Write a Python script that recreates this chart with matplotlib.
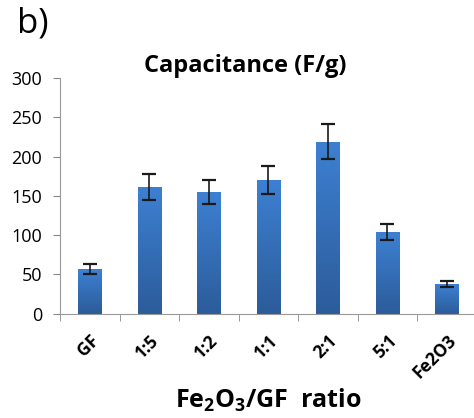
"""Capacitance bar chart for Fe2O3/GF ratios, with error bars."""

import matplotlib

matplotlib.use("Agg")
import matplotlib.pyplot as plt
import numpy as np
from matplotlib.colors import LinearSegmentedColormap

categories = ["GF", "1:5", "1:2", "1:1", "2:1", "5:1", "Fe2O3"]
capacitance = [57, 161, 155, 170, 219, 104, 38]
errors = [6, 16.5, 15.5, 17.5, 22, 10.5, 3.5]
y_ticks = [0, 50, 100, 150, 200, 250, 300]

plt.rcParams["font.family"] = ["Open Sans", "DejaVu Sans"]
plt.rcParams["mathtext.fontset"] = "custom"
plt.rcParams["mathtext.rm"] = "Open Sans:bold"
plt.rcParams["mathtext.bf"] = "Open Sans:bold"

fig = plt.figure(figsize=(4.74, 4.18), dpi=100)
ax = fig.add_axes([0.1266, 0.2495, 0.879, 0.564])

x = np.arange(len(categories))
bars = ax.bar(x, capacitance, width=0.39, color="#3570bd", zorder=2)

# vertical blue gradient inside each bar, like the spreadsheet style
grad = LinearSegmentedColormap.from_list("bar", ["#2c5c9a", "#3d80d2"])
for b in bars:
    x0, y0 = b.get_x(), b.get_y()
    img = ax.imshow(
        np.linspace(0, 1, 100).reshape(-1, 1),
        cmap=grad,
        origin="lower",
        aspect="auto",
        extent=(x0, x0 + b.get_width(), y0, y0 + b.get_height()),
        zorder=2.5,
    )
    img.set_clip_path(b)

ax.errorbar(x, capacitance, yerr=errors, fmt="none", ecolor="#1a1a1a",
            elinewidth=1.2, capsize=5, capthick=1.6, zorder=3)

ax.set_xlim(-0.5, len(categories) - 0.5)
ax.set_ylim(0, 300)
ax.set_yticks(y_ticks)
ax.tick_params(axis="y", length=5, color="#888888", labelsize=13, pad=8)

ax.set_xticks(x)
ax.set_xticklabels(categories, rotation=45, ha="right", rotation_mode="anchor",
                   fontsize=12.5, fontweight="bold")
ax.set_xticks(np.arange(len(categories) + 1) - 0.5, minor=True)
ax.tick_params(axis="x", which="major", length=0, pad=13)
ax.tick_params(axis="x", which="minor", length=5, color="#888888")

for side in ("top", "right"):
    ax.spines[side].set_visible(False)
for side in ("left", "bottom"):
    ax.spines[side].set_color("#999999")

ax.set_title("Capacitance (F/g)", fontsize=17, fontweight="bold", pad=3, x=0.444)
ax.set_xlabel(r"Fe$_\mathregular{2}$O$_\mathregular{3}$/GF  ratio",
              fontsize=18, fontweight="bold", labelpad=3)
fig.text(0.035, 0.985, "b)", fontsize=25, va="top", ha="left")

fig.savefig("out.png", dpi=100)
